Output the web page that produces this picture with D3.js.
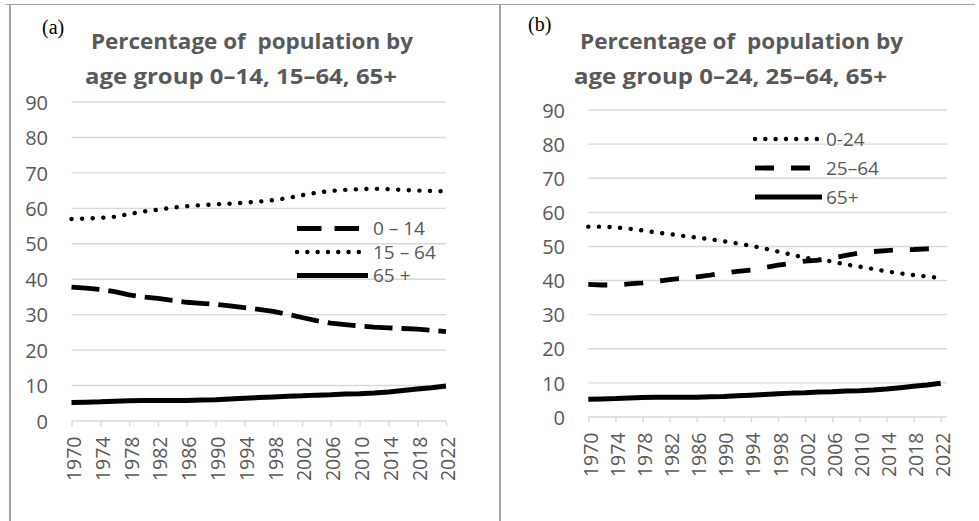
<!DOCTYPE html>
<html><head><meta charset="utf-8">
<script src="https://cdn.jsdelivr.net/npm/d3@7"></script>
<style>
html,body{margin:0;padding:0;background:#fff;}
svg{display:block;}
</style></head><body>
<svg id="chart" width="979" height="521"></svg>
<script>
// ---------- data ----------
const years = [1970,1972,1974,1976,1978,1980,1982,1984,1986,1988,1990,1992,1994,1996,1998,
               2000,2002,2004,2006,2008,2010,2012,2014,2016,2018,2020,2022];
const tickYears = [1970,1974,1978,1982,1986,1990,1994,1998,2002,2006,2010,2014,2018,2022];
const yTicks = [0,10,20,30,40,50,60,70,80,90];

// panel (a)
const ageA_0_14  = [37.8,37.5,37.1,36.5,35.6,35.0,34.6,34.0,33.5,33.2,32.9,32.5,32.0,31.5,30.9,
                    30.1,29.2,28.3,27.6,27.2,26.8,26.5,26.3,26.1,25.9,25.6,25.2];
const ageA_15_64 = [57.0,57.1,57.3,57.6,58.4,59.1,59.6,60.2,60.6,60.9,61.1,61.3,61.6,61.9,62.3,
                    62.9,63.7,64.4,64.9,65.2,65.4,65.5,65.4,65.2,65.0,64.9,64.8];
// 65+ (same in both panels)
const age65plus  = [5.2,5.3,5.4,5.6,5.7,5.8,5.8,5.8,5.8,5.9,6.0,6.2,6.4,6.6,6.8,
                    7.0,7.1,7.3,7.4,7.6,7.7,7.9,8.2,8.6,9.0,9.4,9.9];
// panel (b)
const ageB_0_24  = [55.8,55.8,55.6,55.2,54.7,54.1,53.6,53.1,52.6,52.1,51.5,50.9,50.2,49.4,48.5,
                    47.6,46.7,46.1,45.6,44.7,44.1,43.4,42.7,42.1,41.6,41.2,40.7];
const ageB_25_64 = [38.9,38.7,38.7,39.0,39.3,39.7,40.3,40.7,41.1,41.6,42.2,42.7,43.1,43.8,44.5,
                    45.1,45.7,46.0,46.6,47.4,48.1,48.5,48.8,49.0,49.1,49.3,49.5];

const titleA  = ["Percentage of  population by", "age group 0\u201314, 15\u201364, 65+"];
const titleB  = ["Percentage of  population by", "age group 0\u201324, 25\u201364, 65+"];
const legendA = ["0 \u2013 14", "15 \u2013 64", "65 +"];
const legendB = ["0-24", "25\u201364", "65+"];

// ---------- styles ----------
const SANS = "'Open Sans', sans-serif";
const SERIF = "'Liberation Serif', 'DejaVu Serif', serif";
const GRAY_TEXT = "#595959";
const GRID = "#d9d9d9";
const styles = {
  dashA: {w:4.8, dash:"28 9",  legDash:"24.5 13", cap:"butt"},
  dashB: {w:4.8, dash:"19 17", legDash:"19 17",   cap:"butt"},
  dot:   {w:4.4, dash:"0.1 10.5", legDash:"0.1 10.2", cap:"round"},
  solid: {w:5,   dash:null, legDash:null, cap:"butt"}
};

const panels = [
  { label:"(a)", labelX:42, labelY:34, title:titleA,
    titleX:[252,241], titleW:[322,312], titleY:[49,84],
    x0:71.5, x1:446, gx1:446, y0:421, y90:102, yLabelX:48,
    series:[ {values:ageA_0_14, style:"dashA", name:legendA[0]},
             {values:ageA_15_64, style:"dot", name:legendA[1]},
             {values:age65plus, style:"solid", name:legendA[2]} ],
    legend:{x0:297, x1:368, ys:[228.5,252,275.5], tx:373} },
  { label:"(b)", labelX:528, labelY:31, title:titleB,
    titleX:[741.5,730.5], titleW:[323,313], titleY:[49,84],
    x0:588.3, x1:940.7, gx1:947, y0:417, y90:110, yLabelX:565,
    series:[ {values:ageB_0_24, style:"dot", name:legendB[0]},
             {values:ageB_25_64, style:"dashB", name:legendB[1]},
             {values:age65plus, style:"solid", name:legendB[2]} ],
    legend:{x0:755, x1:822, ys:[139,168,197], tx:826} }
];

const svg = d3.select("#chart");

// frame lines
svg.append("line").attr("x1",5).attr("x2",975).attr("y1",4.5).attr("y2",4.5)
   .attr("stroke","#a6a6a6").attr("stroke-width",1.2);
[10,500].forEach(xv => svg.append("line").attr("x1",xv).attr("x2",xv).attr("y1",4.5).attr("y2",521)
   .attr("stroke","#a6a6a6").attr("stroke-width",2));

panels.forEach(p => {
  const g = svg.append("g");
  const x = d3.scalePoint().domain(years).range([p.x0, p.x1]);
  const y = d3.scaleLinear().domain([0,90]).range([p.y0, p.y90]);

  // gridlines
  g.append("g").selectAll("line").data(yTicks.filter(t => t>0)).join("line")
    .attr("x1",p.x0).attr("x2",p.gx1).attr("y1",d=>y(d)).attr("y2",d=>y(d))
    .attr("stroke",GRID).attr("stroke-width",1.4);

  // y axis labels
  const yAxis = d3.axisLeft(y).tickValues(yTicks).tickSize(0).tickPadding(0);
  const ya = g.append("g").attr("transform",`translate(${p.yLabelX},0)`).call(yAxis);
  ya.select(".domain").remove();
  ya.selectAll("text").style("font-family",SANS).style("font-size","20px")
    .attr("fill",GRAY_TEXT).attr("dy","0.36em");

  // x axis
  const xAxis = d3.axisBottom(x).tickValues(tickYears).tickSize(5.5).tickSizeOuter(0).tickPadding(0);
  const xa = g.append("g").attr("transform",`translate(0,${p.y0})`).call(xAxis);
  xa.select(".domain").attr("d",`M${p.x0},0H${p.gx1}`).attr("stroke",GRID).attr("stroke-width",1.4);
  xa.selectAll(".tick line").attr("stroke",GRID).attr("stroke-width",1.4);
  xa.selectAll(".tick text")
    .style("font-family",SANS).style("font-size","19.5px").attr("fill",GRAY_TEXT)
    .attr("text-anchor","end").attr("y",0).attr("x",0).attr("dy","0.46em")
    .attr("transform","translate(0,15.5) rotate(-90)");

  // series lines
  const line = d3.line().x(d=>x(d.year)).y(d=>y(d.v));
  p.series.forEach(s => {
    const st = styles[s.style];
    const data = years.map((yr,i)=>({year:yr, v:s.values[i]}));
    g.append("path").datum(data).attr("d",line).attr("fill","none")
      .attr("stroke","#000").attr("stroke-width",st.w)
      .attr("stroke-linecap",st.cap).attr("stroke-linejoin","round")
      .attr("stroke-dasharray",st.dash);
  });

  // legend
  p.series.forEach((s,i) => {
    const st = styles[s.style];
    const ly = p.legend.ys[i];
    g.append("line").attr("x1",p.legend.x0).attr("x2",p.legend.x1).attr("y1",ly).attr("y2",ly)
      .attr("stroke","#000").attr("stroke-width",st.w).attr("stroke-linecap",st.cap)
      .attr("stroke-dasharray",st.legDash);
    g.append("text").attr("x",p.legend.tx).attr("y",ly).attr("dy","0.36em")
      .style("font-family",SANS).style("font-size","19px").attr("fill",GRAY_TEXT)
      .style("white-space","pre").text(s.name);
  });

  // title
  p.title.forEach((t,i) => {
    g.append("text").attr("x",p.titleX[i]).attr("y",p.titleY[i]).attr("text-anchor","middle")
      .style("font-family",SANS).style("font-size","20.5px").style("font-weight","bold")
      .attr("fill",GRAY_TEXT)
      .attr("textLength",p.titleW[i]).attr("lengthAdjust","spacingAndGlyphs")
      .style("white-space","pre").text(t);
  });

  // panel label
  g.append("text").attr("x",p.labelX).attr("y",p.labelY)
    .style("font-family",SERIF).style("font-size","20px")
    .attr("fill","#000").text(p.label);
});
</script>
</body></html>
